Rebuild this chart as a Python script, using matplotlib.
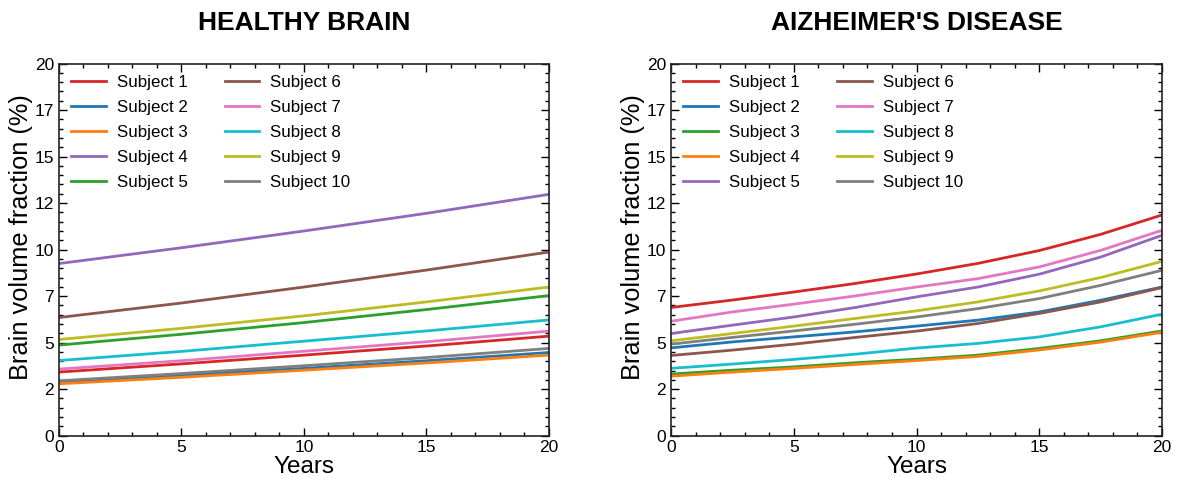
import matplotlib
matplotlib.use("Agg")
import matplotlib.pyplot as plt
from matplotlib.ticker import MultipleLocator, FuncFormatter

plt.rcParams['font.family'] = ['Liberation Sans', 'DejaVu Sans']

# ---------------- data ----------------
years_healthy = [0, 5, 10, 15, 20]
healthy_labels = ["Subject 1", "Subject 2", "Subject 3", "Subject 4", "Subject 5",
                  "Subject 6", "Subject 7", "Subject 8", "Subject 9", "Subject 10"]
healthy_colors = ["#d62728", "#1f77b4", "#ff7f0e", "#9467bd", "#2ca02c",
                  "#8c564b", "#e377c2", "#17becf", "#bcbd22", "#7f7f7f"]
h_s1 = [3.42, 3.86, 4.33, 4.82, 5.35]
h_s2 = [2.88, 3.24, 3.62, 4.03, 4.47]
h_s3 = [2.79, 3.14, 3.52, 3.91, 4.33]
h_s4 = [9.25, 10.10, 11.00, 11.95, 12.97]
h_s5 = [4.87, 5.45, 6.08, 6.78, 7.53]
h_s6 = [6.35, 7.13, 7.99, 8.90, 9.87]
h_s7 = [3.58, 4.03, 4.54, 5.05, 5.62]
h_s8 = [4.04, 4.53, 5.08, 5.63, 6.22]
h_s9 = [5.17, 5.77, 6.44, 7.19, 7.99]
h_s10 = [2.95, 3.34, 3.76, 4.20, 4.69]
healthy_series = [h_s1, h_s2, h_s3, h_s4, h_s5, h_s6, h_s7, h_s8, h_s9, h_s10]

years_ad = [0, 2.5, 5, 7.5, 10, 12.5, 15, 17.5, 20]
ad_labels = healthy_labels
ad_colors = ["#d62728", "#1f77b4", "#2ca02c", "#ff7f0e", "#9467bd",
             "#8c564b", "#e377c2", "#17becf", "#bcbd22", "#7f7f7f"]
a_s1 = [6.89, 7.29, 7.72, 8.18, 8.69, 9.26, 9.95, 10.82, 11.86]
a_s2 = [4.72, 5.04, 5.31, 5.58, 5.89, 6.21, 6.65, 7.28, 7.99]
a_s3 = [3.31, 3.52, 3.70, 3.92, 4.11, 4.33, 4.69, 5.10, 5.63]
a_s4 = [3.20, 3.42, 3.62, 3.83, 4.04, 4.26, 4.61, 5.03, 5.56]
a_s5 = [5.49, 5.94, 6.38, 6.89, 7.46, 7.99, 8.68, 9.60, 10.77]
a_s6 = [4.31, 4.60, 4.92, 5.28, 5.62, 6.03, 6.57, 7.19, 7.96]
a_s7 = [6.15, 6.65, 7.07, 7.51, 7.99, 8.44, 9.07, 9.96, 11.04]
a_s8 = [3.62, 3.85, 4.10, 4.38, 4.71, 4.96, 5.31, 5.85, 6.53]
a_s9 = [5.10, 5.49, 5.89, 6.30, 6.71, 7.19, 7.78, 8.50, 9.37]
a_s10 = [4.92, 5.28, 5.63, 5.99, 6.38, 6.83, 7.37, 8.08, 8.89]
ad_series = [a_s1, a_s2, a_s3, a_s4, a_s5, a_s6, a_s7, a_s8, a_s9, a_s10]

titles = ["HEALTHY BRAIN", "AIZHEIMER'S DISEASE"]

# ---------------- figure ----------------
fig = plt.figure(figsize=(11.77, 4.83), dpi=100)
ax1 = fig.add_axes([0.0501, 0.0979, 0.4163, 0.7706])
ax2 = fig.add_axes([0.5701, 0.0979, 0.4172, 0.7706])

panels = [(ax1, years_healthy, healthy_series, healthy_labels, healthy_colors),
          (ax2, years_ad, ad_series, ad_labels, ad_colors)]

for (ax, yrs, series, labels, colors), title in zip(panels, titles):
    for vals, lab, col in zip(series, labels, colors):
        ax.plot(yrs, vals, color=col, lw=2, label=lab)
    ax.set_xlim(0, 20)
    ax.set_ylim(0, 20)
    ax.xaxis.set_major_locator(MultipleLocator(5))
    ax.xaxis.set_minor_locator(MultipleLocator(1))
    ax.yaxis.set_major_locator(MultipleLocator(2.5))
    ax.yaxis.set_minor_locator(MultipleLocator(0.5))
    ax.yaxis.set_major_formatter(FuncFormatter(lambda v, p: "%d" % int(v)))
    ax.tick_params(which='both', direction='in', top=True, right=True, labelsize=12.5, colors='black')
    ax.tick_params(which='major', length=6, width=1)
    ax.tick_params(which='minor', length=3, width=1)
    ax.tick_params(axis='x', pad=3)
    for sp in ax.spines.values():
        sp.set_linewidth(1.2)
        sp.set_color('#222222')
    ax.set_xlabel("Years", fontsize=17.5, labelpad=1)
    ax.set_ylabel("Brain volume fraction (%)", fontsize=18.3)
    ax.yaxis.set_label_coords(-0.052, 0.535)
    ax.set_title(title, fontsize=19, fontweight='bold', pad=24)
    ax.legend(loc='upper left', ncol=2, frameon=False, fontsize=12.2,
              handlelength=2.05, handletextpad=0.65, labelspacing=0.58,
              columnspacing=2.2, borderaxespad=0.3)

fig.savefig("out.png", dpi=100)
